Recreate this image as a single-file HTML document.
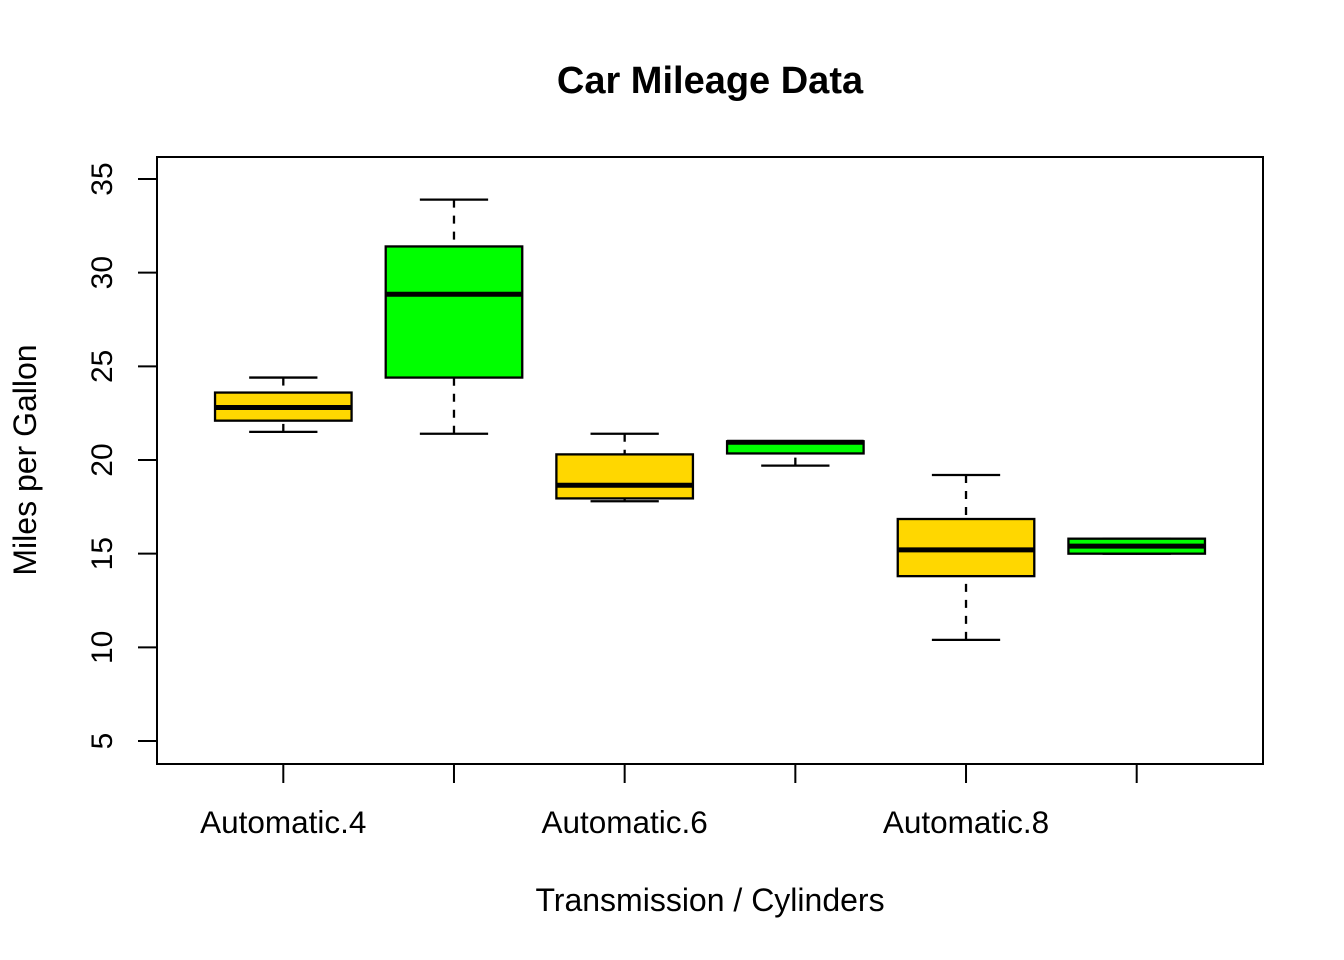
<!DOCTYPE html>
<html><head><meta charset="utf-8"><style>
body{margin:0;background:#fff}
svg{display:block;font-family:"Liberation Sans",Arial,sans-serif}
</style></head><body>
<svg id="chart" width="1344" height="960" xmlns="http://www.w3.org/2000/svg">
<text x="710" y="93" text-anchor="middle" font-size="38" font-weight="bold">Car Mileage Data</text>
<text x="710" y="911" text-anchor="middle" font-size="32">Transmission / Cylinders</text>
<text transform="translate(36,460) rotate(-90)" text-anchor="middle" font-size="32">Miles per Gallon</text>
<rect x="157" y="157" width="1106" height="607" fill="none" stroke="#000" stroke-width="2"/>
<g id="marks"></g>
</svg>
<script>
const categories=["Automatic.4","Manual.4","Automatic.6","Manual.6","Automatic.8","Manual.8"];
const tickLabels=["Automatic.4","","Automatic.6","","Automatic.8",""];
const whiskerLow=[21.5,21.4,17.8,19.7,10.4,15.0];
const q1=[22.1,24.4,17.95,20.35,13.8,15.0];
const medians=[22.8,28.85,18.65,20.95,15.2,15.4];
const q3=[23.6,31.4,20.3,21.0,16.85,15.8];
const whiskerHigh=[24.4,33.9,21.4,21.0,19.2,15.8];
const fills=["#FFD700","#00FF00","#FFD700","#00FF00","#FFD700","#00FF00"];
const yTicks=[5,10,15,20,25,30,35];
const ns="http://www.w3.org/2000/svg";
const g=document.getElementById('marks');
const yS=v=>741-(v-5)*(562/30);
const xS=i=>157+(i+1-0.26)*(1106/6.48);
const unit=1106/6.48;
function mk(t,a){const e=document.createElementNS(ns,t);for(const k in a)e.setAttribute(k,a[k]);g.appendChild(e);return e;}
yTicks.forEach(v=>{
 const l=mk('line',{x1:138,x2:157,y1:yS(v),y2:yS(v),stroke:'#000','stroke-width':2});
 
 
 const t=mk('text',{transform:`translate(112,${yS(v)}) rotate(-90)`,'text-anchor':'middle','font-size':30});
 
 
 t.textContent=v;
});
categories.forEach((c,i)=>{
 const x=xS(i),hw=unit*0.4,cw=unit*0.2;
 const tk=mk('line',{x1:x,x2:x,y1:764,y2:783,stroke:'#000','stroke-width':2});
 
 
 if(tickLabels[i]){const t=mk('text',{x:x,y:833,'text-anchor':'middle','font-size':31.5});
 
 
 t.textContent=tickLabels[i];}
 const w1=mk('line',{x1:x,x2:x,y1:yS(whiskerLow[i]),y2:yS(q1[i]),stroke:'#000','stroke-width':2.3,'stroke-dasharray':'8,8'});
 
 
 const w2=mk('line',{x1:x,x2:x,y1:yS(whiskerHigh[i]),y2:yS(q3[i]),stroke:'#000','stroke-width':2.3,'stroke-dasharray':'8,8'});
 
 
 [whiskerLow[i],whiskerHigh[i]].forEach(v=>{const cp=mk('line',{x1:x-cw,x2:x+cw,y1:yS(v),y2:yS(v),stroke:'#000','stroke-width':2.3});
 
 });
 const b=mk('rect',{x:x-hw,y:yS(q3[i]),width:2*hw,height:yS(q1[i])-yS(q3[i]),fill:fills[i],stroke:'#000','stroke-width':2.3});
 
 
 const m=mk('line',{x1:x-hw,x2:x+hw,y1:yS(medians[i]),y2:yS(medians[i]),stroke:'#000','stroke-width':5});
 
 
});
</script>
</body></html>
